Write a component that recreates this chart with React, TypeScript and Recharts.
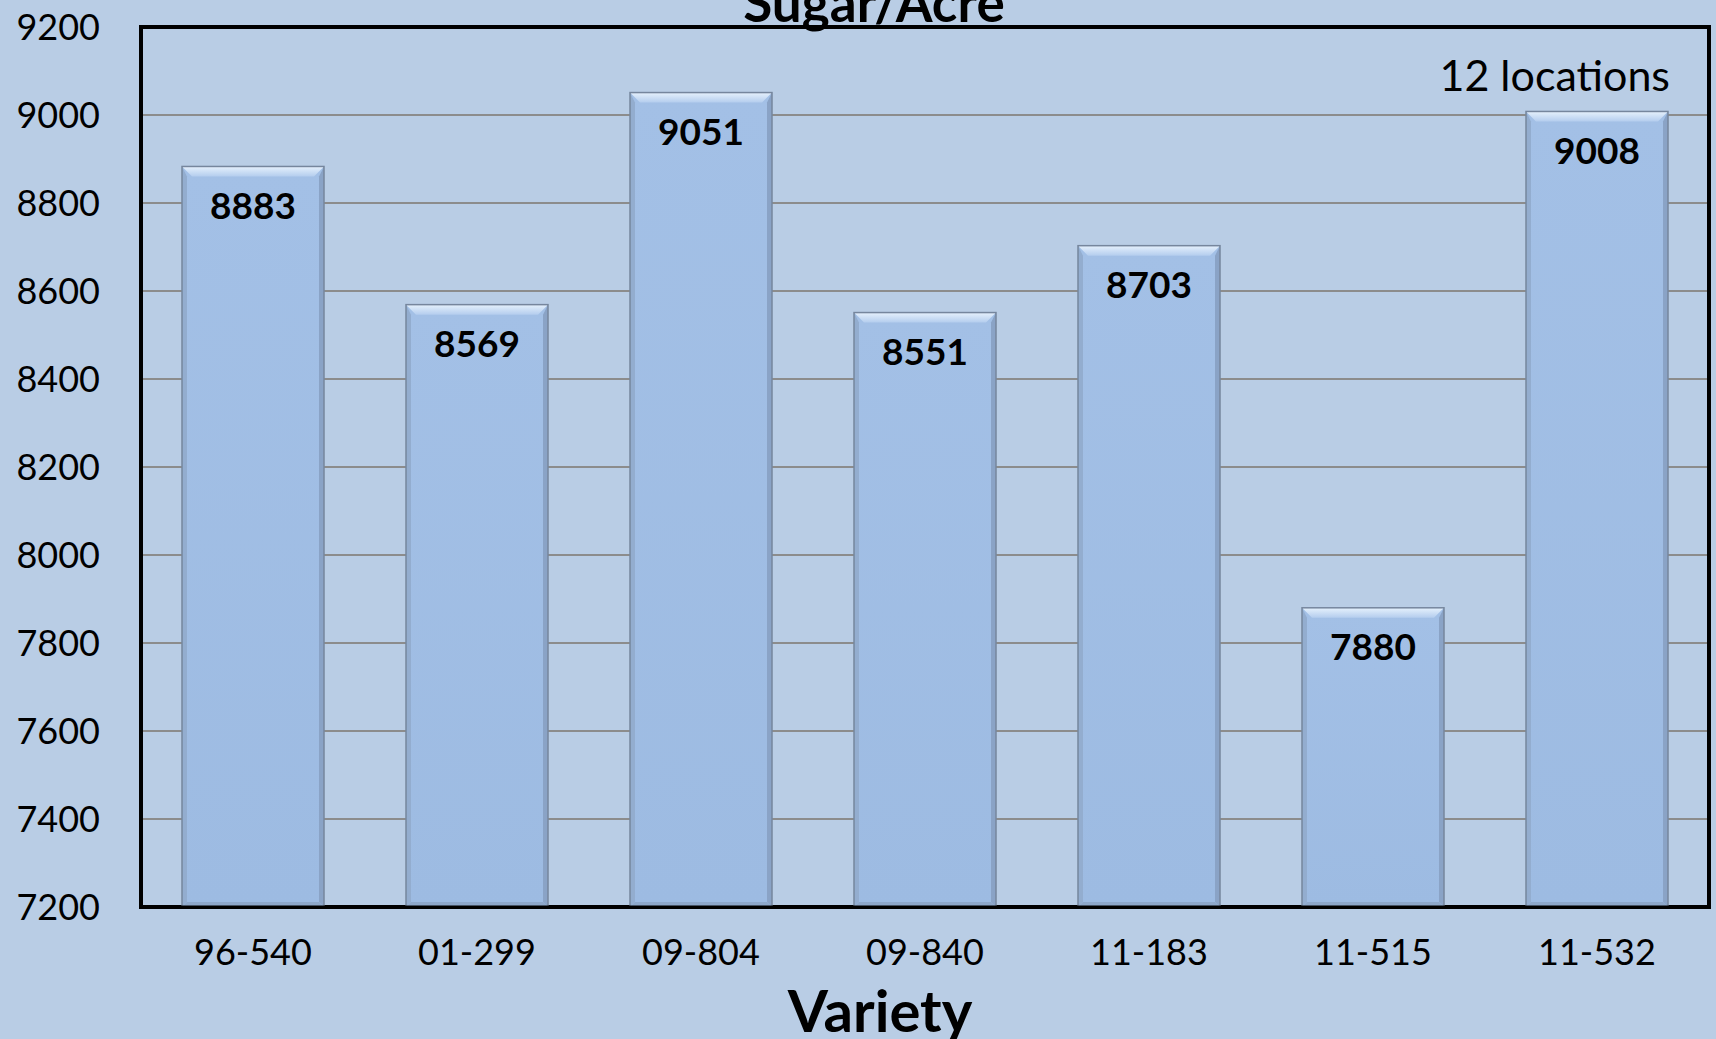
import { BarChart, Bar, XAxis, YAxis, CartesianGrid, ReferenceArea, LabelList } from 'recharts';

const varieties = ['96-540', '01-299', '09-804', '09-840', '11-183', '11-515', '11-532'];
const sugarPerAcre = [8883, 8569, 9051, 8551, 8703, 7880, 9008];
const yTicks = [7200, 7400, 7600, 7800, 8000, 8200, 8400, 8600, 8800, 9000, 9200];

const chartTitle = 'Sugar/Acre';
const noteText = '12 locations';
const xTitle = 'Variety';

const data = varieties.map((variety, i) => ({ variety, sugar: sugarPerAcre[i] }));

const FONT = 'Lato, "Open Sans", sans-serif';
const BG = '#b9cde5';

// excel-style bevelled column
function BevelBar(props: any) {
  const { x, y, width, height } = props;
  if (!height || height <= 0) return null;
  const b = 10;
  const s = 5;
  return (
    <g>
      <rect x={x} y={y} width={width} height={height} fill="url(#barBody)" />
      <polygon
        points={`${x},${y} ${x + width},${y} ${x + width - b},${y + b} ${x + b},${y + b}`}
        fill="url(#barTop)"
      />
      <polygon
        points={`${x},${y} ${x + s},${y + b} ${x + s},${y + height - s} ${x},${y + height}`}
        fill="#93adcf"
      />
      <polygon
        points={`${x + width},${y} ${x + width - s},${y + b} ${x + width - s},${y + height - s} ${x + width},${y + height}`}
        fill="#8aa3c6"
      />
      <polygon
        points={`${x},${y + height} ${x + s},${y + height - s} ${x + width - s},${y + height - s} ${x + width},${y + height}`}
        fill="#8ea8ca"
      />
      <rect x={x} y={y} width={width} height={height} fill="none" stroke="#76869d" strokeWidth={1.5} />
    </g>
  );
}

export default function App() {
  return (
    <div style={{ position: 'absolute', left: 0, top: 0, width: 1716, height: 1039, background: BG }}>
      <svg width={0} height={0} style={{ position: 'absolute' }}>
        <defs>
          <linearGradient id="barBody" x1="0" y1="0" x2="0" y2="1">
            <stop offset="0%" stopColor="#a3c0e6" />
            <stop offset="100%" stopColor="#9dbbe2" />
          </linearGradient>
          <linearGradient id="barTop" x1="0" y1="0" x2="0" y2="1">
            <stop offset="0%" stopColor="#e6f1fc" />
            <stop offset="100%" stopColor="#b4cdee" />
          </linearGradient>
        </defs>
      </svg>
      <BarChart
        width={1716}
        height={1039}
        data={data}
        margin={{ top: 27, right: 7, left: 0, bottom: 0 }}
      >
        <CartesianGrid vertical={false} stroke="#8c8c8c" strokeWidth={2} />
        <XAxis
          dataKey="variety"
          interval={0}
          height={132}
          tickSize={0}
          tickMargin={32}
          tick={{ fill: '#000', fontSize: 36, fontFamily: FONT }}
          axisLine={{ stroke: '#000', strokeWidth: 3 }}
        />
        <YAxis
          type="number"
          domain={[7200, 9200]}
          ticks={yTicks}
          interval={0}
          width={141}
          tickSize={0}
          tickMargin={41}
          allowDataOverflow
          tick={{ fill: '#000', fontSize: 36, fontFamily: FONT }}
          axisLine={{ stroke: '#000', strokeWidth: 4 }}
        />
        <Bar dataKey="sugar" barSize={142} shape={<BevelBar />} isAnimationActive={false}>
          <LabelList
            dataKey="sugar"
            position="insideTop"
            offset={26}
            fill="#000"
            fontSize={37}
            fontWeight="bold"
            fontFamily={FONT}
          />
        </Bar>
        <ReferenceArea y1={7200} y2={9200} fill="none" fillOpacity={0} stroke="#000" strokeWidth={4} />
      </BarChart>
      <svg
        width={1716}
        height={1039}
        style={{ position: 'absolute', left: 0, top: 0, pointerEvents: 'none' }}
      >
        <text x={874} y={22} textAnchor="middle" fontFamily={FONT} fontWeight="bold" fontSize={53} fill="#000">
          {chartTitle}
        </text>
        <text x={1670} y={91} textAnchor="end" fontFamily={FONT} fontSize={43} fill="#000">
          {noteText}
        </text>
        <text x={880} y={1032} textAnchor="middle" fontFamily={FONT} fontWeight="bold" fontSize={58} fill="#000">
          {xTitle}
        </text>
      </svg>
    </div>
  );
}
